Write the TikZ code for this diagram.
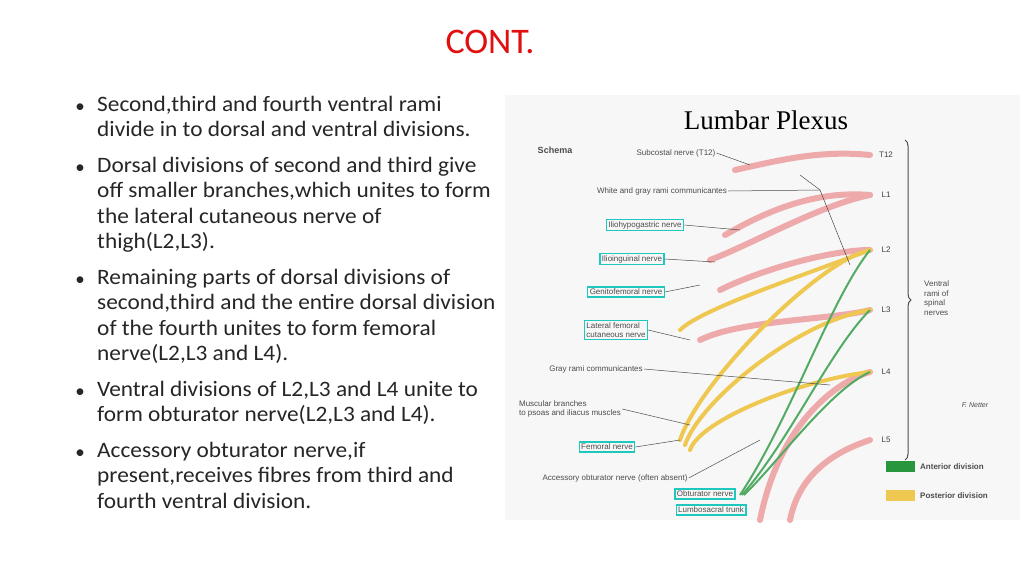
\documentclass[tikz,border=0pt]{standalone}
\usepackage{fontspec}
\setmainfont{Carlito}
\newfontfamily\figfont{Liberation Sans}
\newfontfamily\headfont{Liberation Serif}
\usetikzlibrary{positioning,decorations.pathreplacing}
\definecolor{titlered}{RGB}{225,15,15}
\definecolor{nervepink}{RGB}{238,170,170}
\definecolor{antgreen}{RGB}{40,150,60}
\definecolor{postyellow}{RGB}{238,200,80}
\definecolor{boxcyan}{RGB}{30,200,190}
\tikzset{
	bullet/.style = {anchor = north west, align = left, font = \fontsize{22}{25.5}\selectfont, inner sep = 0pt, text = black!85, xscale = 1.06},
	lbl/.style = {font = \figfont\fontsize{8}{9.5}\selectfont, text = black!70, inner sep = 1pt, align = left},
	boxlbl/.style = {lbl, draw = boxcyan, line width = 1.2pt, inner sep = 2pt},
	lvl/.style = {font = \figfont\fontsize{8}{9}\selectfont, text = black!75},
	nerve/.style = {nervepink, line width = 6pt, line cap = round},
	post/.style = {postyellow, line width = 4pt, line cap = round},
	ant/.style = {antgreen!80, line width = 2pt},
	pointer/.style = {black!70, line width = 0.5pt}
}
\begin{document}
\begin{tikzpicture}[x=1pt, y=1pt]
	\useasboundingbox [fill = white] (0, 0) rectangle (1024, -576);
	\node [text = titlered, font = \fontsize{36}{38}\selectfont] (title) at (490, -42) {CONT.};

	% bullet text
	\foreach \yy/\txt in {
		-96/{Second,third and fourth ventral rami\\divide in to dorsal and ventral divisions.},
		-157/{Dorsal divisions of second and third give\\off smaller branches,which unites to form\\the lateral cutaneous nerve of\\thigh(L2,L3).},
		-269/{Remaining parts of dorsal divisions of\\second,third and the entire dorsal division\\of the fourth unites to form femoral\\nerve(L2,L3 and L4).},
		-381/{Ventral divisions of L2,L3 and L4 unite to\\form obturator nerve(L2,L3 and L4).},
		-442/{Accessory obturator nerve,if\\present,receives fibres  from third  and\\fourth ventral division.}}{
		\node [font = \fontsize{19}{25}\selectfont, text = black!85] at (80, \yy-12) {•};
		\node [bullet] at (97, \yy) {\txt};
	}

	% figure panel
	\fill [black!3] (505, -95) rectangle (1020, -520);
	\node [font = \headfont\fontsize{27}{28}\selectfont] (plexus) at (766, -120) {Lumbar Plexus};
	\node [lbl, font = \figfont\bfseries\fontsize{9}{10}\selectfont] (schema) at (555, -150) {Schema};

	% spinal roots and nerves
	\foreach \n/\yr in {T12/-155, L1/-195, L2/-250, L3/-310, L4/-372, L5/-440}{
		\coordinate (r\n) at (870, \yr);
		\node [lvl] (lv\n) at (886, \yr) {\n};
	}
	\draw [nerve] (rT12) .. controls (820, -150) and (780, -160) .. (735, -170);
	\draw [nerve] (rL1) .. controls (810, -190) and (760, -215) .. (725, -235);
	\draw [nerve] (rL1) .. controls (820, -205) and (750, -245) .. (710, -260);
	\draw [nerve] (rL2) .. controls (830, -250) and (760, -270) .. (720, -290);
	\draw [nerve] (rL3) .. controls (830, -320) and (740, -320) .. (700, -340);
	\draw [nerve] (rL4) .. controls (840, -380) and (780, -420) .. (760, -520);
	\draw [nerve] (rL5) .. controls (840, -450) and (800, -470) .. (790, -520);
	% posterior divisions
	\draw [post] (rL2) .. controls (820, -260) and (700, -380) .. (680, -440);
	\draw [post] (rL3) .. controls (800, -320) and (700, -400) .. (685, -445);
	\draw [post] (rL4) .. controls (800, -380) and (700, -420) .. (690, -450);
	\draw [post] (rL2) .. controls (790, -280) and (700, -310) .. (680, -330);
	% anterior divisions
	\draw [ant] (rL2) .. controls (830, -300) and (790, -420) .. (740, -495);
	\draw [ant] (rL3) .. controls (830, -350) and (790, -440) .. (742, -495);
	\draw [ant] (rL4) .. controls (830, -390) and (780, -460) .. (744, -495);

	% labels
	\node [lbl] (subcostal) at (676, -153) {Subcostal nerve (T12)};
	\node [lbl] (commun) at (662, -191) {White and gray rami communicantes};
	\node [boxlbl] (ilioh) at (645, -225) {Iliohypogastric nerve};
	\node [boxlbl] (ilioi) at (632, -259) {Ilioinguinal nerve};
	\node [boxlbl] (genito) at (626, -292) {Genitofemoral nerve};
	\node [boxlbl] (latfem) at (616, -330) {Lateral femoral\\cutaneous nerve};
	\node [lbl] (gray) at (596, -369) {Gray rami communicantes};
	\node [lbl] (muscular) at (570, -409) {Muscular branches\\to psoas and iliacus muscles};
	\node [boxlbl] (femoral) at (607, -447) {Femoral nerve};
	\node [lbl] (accessory) at (615, -478) {Accessory obturator nerve (often absent)};
	\node [boxlbl] (obturator) at (705, -494) {Obturator nerve};
	\node [boxlbl] (lumbo) at (711, -510) {Lumbosacral trunk};

	% pointer lines
	\draw [pointer] (subcostal.east) -- (750, -165);
	\draw [pointer] (commun.east) -- (820, -190);
	\draw [pointer] (820, -190) -- (800, -175);
	\draw [pointer] (820, -190) -- (850, -265);
	\draw [pointer] (ilioh.east) -- (740, -230);
	\draw [pointer] (ilioi.east) -- (715, -262);
	\draw [pointer] (genito.east) -- (700, -285);
	\draw [pointer] (latfem.east) -- (690, -340);
	\draw [pointer] (gray.east) -- (830, -385);
	\draw [pointer] (muscular.east) -- (690, -425);
	\draw [pointer] (femoral.east) -- (680, -440);
	\draw [pointer] (accessory.east) -- (760, -440);

	% brace and legend
	\draw [decorate, decoration = {brace, amplitude = 6pt}, black!70, line width = 1pt] (905, -140) -- (905, -460);
	\node [lbl, anchor = west] (ventral) at (923, -298) {Ventral\\rami of\\spinal\\nerves};
	\node [lbl, font = \figfont\itshape\fontsize{7}{8}\selectfont] (netter) at (975, -405) {F. Netter};
	\fill [antgreen] (886, -461) rectangle (915, -472);
	\node [lbl, font = \figfont\bfseries\fontsize{8}{9}\selectfont, right = 4pt of {(915, -467)}] (antdiv) {Anterior division};
	\fill [postyellow] (886, -490) rectangle (915, -501);
	\node [lbl, font = \figfont\bfseries\fontsize{8}{9}\selectfont, right = 4pt of {(915, -496)}] (postdiv) {Posterior division};
\end{tikzpicture}
\end{document}
